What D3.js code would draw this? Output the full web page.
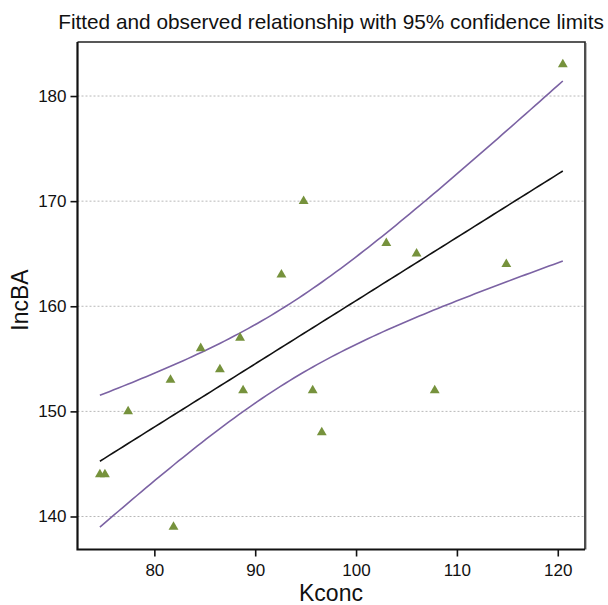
<!DOCTYPE html>
<html>
<head>
<meta charset="utf-8">
<script src="https://cdn.jsdelivr.net/npm/d3@7"></script>
<style>
  html, body { margin: 0; padding: 0; background: #fff; }
  svg { display: block; font-family: "Liberation Sans", Arial, sans-serif; }
</style>
</head>
<body>
<svg id="chart" width="608" height="605"></svg>
<script>
// ---- data ----
const kconc = [74.6, 75.1, 77.4, 81.6, 81.9, 84.6, 86.5, 88.5, 88.8, 92.6, 94.8, 95.7, 96.6, 103.0, 106.0, 107.8, 114.9, 120.5];
const incBA = [144, 144, 150, 153, 139, 156, 154, 157, 152, 163, 170, 152, 148, 166, 165, 152, 164, 183];
const xTicks = [80, 90, 100, 110, 120];
const yTicks = [140, 150, 160, 170, 180];
const tCrit = 2.12; // t(0.975, df = 16)
const titleText = "Fitted and observed relationship with 95% confidence limits";
const xLabel = "Kconc";
const yLabel = "IncBA";

// ---- least-squares fit with 95% confidence limits for the mean ----
const n = kconc.length;
const mx = d3.mean(kconc), my = d3.mean(incBA);
const sxx = d3.sum(kconc, x => (x - mx) ** 2);
const sxy = d3.sum(kconc, (x, i) => (x - mx) * (incBA[i] - my));
const slope = sxy / sxx, intercept = my - slope * mx;
const sse = d3.sum(kconc, (x, i) => (incBA[i] - (intercept + slope * x)) ** 2);
const s = Math.sqrt(sse / (n - 2));
const [xmin, xmax] = d3.extent(kconc);
const grid = d3.range(0, 101).map(k => xmin + (xmax - xmin) * k / 100);
const fit = grid.map(x => {
  const yh = intercept + slope * x;
  const hw = tCrit * s * Math.sqrt(1 / n + (x - mx) ** 2 / sxx);
  return { x, yh, lo: yh - hw, hi: yh + hw };
});

// ---- layout ----
const svg = d3.select("#chart");
const L = 77.5, R = 585, T = 42, B = 549.5;
const x = d3.scaleLinear().domain([72.38, 122.7]).range([L, R]);
const y = d3.scaleLinear().domain([136.86, 185.14]).range([B, T]);

// gridlines
svg.append("g").selectAll("line").data(yTicks).join("line")
  .attr("x1", L).attr("x2", R)
  .attr("y1", d => y(d)).attr("y2", d => y(d))
  .attr("stroke", "#b8b8b8").attr("stroke-width", 1)
  .attr("stroke-dasharray", "2,2");

// frame (top / right)
svg.append("path")
  .attr("d", `M${L},${T}H${R}V${B}`)
  .attr("fill", "none").attr("stroke", "#222").attr("stroke-width", 1.6);
svg.append("line").attr("x1", R + 1.5).attr("x2", R + 1.5).attr("y1", T + 1).attr("y2", B)
  .attr("stroke", "#bbb").attr("stroke-width", 1);

// axes
const xAxis = svg.append("g").attr("transform", `translate(0,${B})`)
  .call(d3.axisBottom(x).tickValues(xTicks).tickSize(7).tickPadding(7).tickFormat(d3.format("d")));
const yAxis = svg.append("g").attr("transform", `translate(${L},0)`)
  .call(d3.axisLeft(y).tickValues(yTicks).tickSize(7).tickPadding(4).tickFormat(d3.format("d")));
[xAxis, yAxis].forEach(g => {
  g.select(".domain").remove();
  g.selectAll(".tick line").attr("stroke", "#111").attr("stroke-width", 1.6);
  g.selectAll(".tick text").attr("fill", "#111").style("font-size", "17px")
    .style("font-family", '"Liberation Sans", Arial, sans-serif');
});
svg.append("path")
  .attr("d", `M${L},${T}V${B}H${R}`)
  .attr("fill", "none").attr("stroke", "#111").attr("stroke-width", 2.2);

// confidence limits
const lineHi = d3.line().x(d => x(d.x)).y(d => y(d.hi));
const lineLo = d3.line().x(d => x(d.x)).y(d => y(d.lo));
const lineFit = d3.line().x(d => x(d.x)).y(d => y(d.yh));
svg.append("path").datum(fit).attr("d", lineHi)
  .attr("fill", "none").attr("stroke", "#7b62a3").attr("stroke-width", 1.6);
svg.append("path").datum(fit).attr("d", lineLo)
  .attr("fill", "none").attr("stroke", "#7b62a3").attr("stroke-width", 1.6);
svg.append("path").datum(fit).attr("d", lineFit)
  .attr("fill", "none").attr("stroke", "#111").attr("stroke-width", 1.6);

// observed points
const tri = d3.symbol().type(d3.symbolTriangle).size(42);
svg.append("g").selectAll("path").data(kconc).join("path")
  .attr("d", tri)
  .attr("transform", (d, i) => `translate(${x(d)},${y(incBA[i])})`)
  .attr("fill", "#76923c");

// title and labels
svg.append("text").attr("x", 331).attr("y", 29).attr("text-anchor", "middle")
  .style("font-size", "20.8px").attr("fill", "#111").text(titleText);
svg.append("text").attr("x", 331).attr("y", 601).attr("text-anchor", "middle")
  .style("font-size", "23px").attr("fill", "#111").text(xLabel);
svg.append("text").attr("transform", "translate(28,300) rotate(-90)").attr("text-anchor", "middle")
  .style("font-size", "23px").attr("fill", "#111").text(yLabel);
</script>
</body>
</html>
